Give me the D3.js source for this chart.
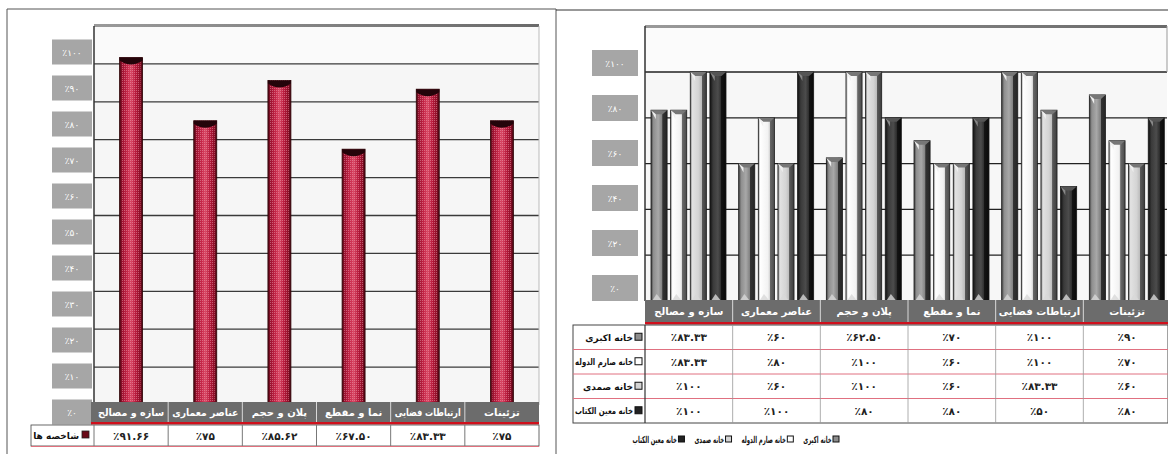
<!DOCTYPE html>
<html>
<head>
<meta charset="utf-8">
<script src="https://cdn.jsdelivr.net/npm/d3@7"></script>
<style>
  body { margin: 0; background: #fff; }
  svg { display: block; font-family: "DejaVu Sans", sans-serif; }
</style>
</head>
<body>
<svg id="chart" width="1168" height="454"></svg>
<script>
// categories (left to right as drawn)
const categories = ['سازه و مصالح', 'عناصر معماری', 'پلان و حجم', 'نما و مقطع', 'ارتباطات فضایی', 'تزئینات'];

// left chart: overall index
const indexName = 'شاخصه ها';
const indexValues = [91.66, 75, 85.62, 67.5, 83.33, 75];

// right chart: four houses
const houses = ['خانه اکبری', 'خانه صارم الدوله', 'خانه صمدی', 'خانه معین الکتاب'];
const akbari = [83.33, 60, 62.5, 70, 100, 90];
const saremDowleh = [83.33, 80, 100, 60, 100, 70];
const samadi = [100, 60, 100, 60, 83.33, 60];
const moinKetab = [100, 100, 80, 80, 50, 80];
const houseValues = [akbari, saremDowleh, samadi, moinKetab];

// tick labels
const leftTicks = [0, 10, 20, 30, 40, 50, 60, 70, 80, 90, 100];
const rightTicks = [0, 20, 40, 60, 80, 100];

const fa = s => String(s).replace(/\d/g, d => '۰۱۲۳۴۵۶۷۸۹'[d]);
const pct = v => '٪' + fa(Number.isInteger(v) ? v : v.toFixed(2));

const svg = d3.select('#chart');
const defs = svg.append('defs');

// right-aligned persian label, squeezed horizontally with a transform
function rtlText(g, rightX, y, txt, size, maxW, squeeze, fill) {
    const holder = g.append('g');
    const t = holder.append('text').attr('x', 0).attr('y', 0).attr('text-anchor', 'middle')
        .style('font-size', size + 'px').style('font-weight', 'bold').attr('fill', fill || '#111').text(txt);
    const len = t.node().getComputedTextLength();
    let k = squeeze || 1;
    if (maxW && len * k > maxW) k = maxW / len;
    holder.attr('transform', `translate(${rightX - len * k / 2},${y}) scale(${k},1)`);
    return len * k;
}

// ---------- gradients / patterns ----------
function hGrad(id, stops) {
    const g = defs.append('linearGradient').attr('id', id)
        .attr('x1', 0).attr('x2', 1).attr('y1', 0).attr('y2', 0);
    stops.forEach(s => g.append('stop').attr('offset', s[0]).attr('stop-color', s[1]));
}
hGrad('redBar', [[0, '#4a0812'], [0.12, '#9c1230'], [0.35, '#c8284a'], [0.5, '#d94a66'], [0.7, '#b81a3c'], [0.9, '#8a0e26'], [1, '#3e0610']]);
hGrad('s0', [[0, '#3c3c3c'], [0.15, '#8e8e8e'], [0.45, '#a8a8a8'], [0.7, '#808080'], [0.72, '#333'], [1, '#262626']]);
hGrad('s1', [[0, '#8a8a8a'], [0.12, '#ffffff'], [0.6, '#f2f2f2'], [0.7, '#d8d8d8'], [0.72, '#6a6a6a'], [1, '#4a4a4a']]);
hGrad('s2', [[0, '#6a6a6a'], [0.12, '#e2e2e2'], [0.5, '#d4d4d4'], [0.7, '#bcbcbc'], [0.72, '#5a5a5a'], [1, '#3c3c3c']]);
hGrad('s3', [[0, '#101010'], [0.2, '#3a3a3a'], [0.5, '#4c4c4c'], [0.7, '#2e2e2e'], [0.72, '#141414'], [1, '#0a0a0a']]);
hGrad('topEdge', [[0, '#9a9a9a'], [1, '#6a6a6a']]);

const dots = defs.append('pattern').attr('id', 'dots')
    .attr('width', 2).attr('height', 2).attr('patternUnits', 'userSpaceOnUse');
dots.append('rect').attr('width', 1).attr('height', 1).attr('fill', '#f6b0c0').attr('opacity', 0.45);

const seriesFill = ['url(#s0)', 'url(#s1)', 'url(#s2)', 'url(#s3)'];
const legendFill = ['#8c8c8c', '#ffffff', '#d4d4d4', '#222'];

// ---------- frames ----------
svg.append('line').attr('x1', 7).attr('x2', 7).attr('y1', 9).attr('y2', 454).attr('stroke', '#555');
svg.append('line').attr('x1', 7).attr('x2', 556).attr('y1', 9).attr('y2', 9).attr('stroke', '#555');
svg.append('line').attr('x1', 556).attr('x2', 556).attr('y1', 9).attr('y2', 454).attr('stroke', '#555');
svg.append('line').attr('x1', 556).attr('x2', 1168).attr('y1', 10).attr('y2', 10).attr('stroke', '#333');

// ================= LEFT CHART =================
const xL = d3.scaleBand().domain(categories).range([94, 539]);
const yL = d3.scaleLinear().domain([0, 100]).range([405, 26]);
const yLabL = d3.scaleLinear().domain([0, 100]).range([412, 52]);

const left = svg.append('g');
left.append('rect').attr('x', xL.range()[0]).attr('y', yL(100))
    .attr('width', xL.range()[1] - xL.range()[0]).attr('height', yL(0) - yL(100))
    .attr('fill', '#f6f6f6');
left.append('rect').attr('x', xL.range()[0]).attr('y', yL(100))
    .attr('width', xL.range()[1] - xL.range()[0]).attr('height', yL(90) - yL(100))
    .attr('fill', '#fafafa');

left.selectAll('.grid').data(leftTicks.filter(t => t > 0 && t < 100)).join('line')
    .attr('x1', xL.range()[0]).attr('x2', xL.range()[1])
    .attr('y1', d => yL(d)).attr('y2', d => yL(d))
    .attr('stroke', '#3a3a3a').attr('stroke-width', 1.3);
left.append('rect').attr('x', xL.range()[0]).attr('y', yL(100) - 2)
    .attr('width', xL.range()[1] - xL.range()[0]).attr('height', 3).attr('fill', 'url(#topEdge)');
left.append('line').attr('x1', xL.range()[0]).attr('x2', xL.range()[0])
    .attr('y1', yL(100)).attr('y2', yL(0)).attr('stroke', '#333').attr('stroke-width', 1.5);
left.append('line').attr('x1', xL.range()[1]).attr('x2', xL.range()[1])
    .attr('y1', yL(100)).attr('y2', yL(0)).attr('stroke', '#bbb');

// label boxes
const labL = left.selectAll('.lab').data(leftTicks).join('g');
labL.append('rect').attr('x', 52).attr('width', 40).attr('height', 25)
    .attr('y', d => yLabL(d) - 12.5).attr('fill', '#a6a6a6');
labL.append('text').attr('x', 72).attr('y', d => yLabL(d) + 3.5)
    .attr('text-anchor', 'middle').attr('fill', '#fff').style('font-size', '9px')
    .text(d => '٪' + fa(d));

// bars
const barW = 23;
left.selectAll('.bar').data(categories).join('g').each(function (c, i) {
    const g = d3.select(this);
    const x0 = xL(c) + xL.bandwidth() / 2 - barW / 2;
    const yT = yL(indexValues[i]), yB = yL(0);
    g.append('rect').attr('x', x0).attr('y', yT).attr('width', barW).attr('height', yB - yT)
        .attr('fill', 'url(#redBar)').attr('stroke', '#300508').attr('stroke-width', 0.8);
    g.append('rect').attr('x', x0 + 2).attr('y', yT).attr('width', barW - 4).attr('height', yB - yT)
        .attr('fill', 'url(#dots)');
    g.append('path')
        .attr('d', `M${x0},${yT} h${barW} v3 Q${x0 + barW / 2},${yT + 11} ${x0},${yT + 3} Z`)
        .attr('fill', '#24040a');
});

// header + data row
const hdrL = left.append('g');
hdrL.append('rect').attr('x', 91).attr('y', 402).attr('width', xL.range()[1] - 91).attr('height', 20).attr('fill', '#6c6c6c');
hdrL.selectAll('.sep').data(categories.slice(1)).join('line')
    .attr('x1', d => xL(d)).attr('x2', d => xL(d)).attr('y1', 402).attr('y2', 422)
    .attr('stroke', '#d8d8d8');
categories.forEach(c => {
    const w = rtlText(hdrL, 0, 416, c, 10, xL.bandwidth() - 8, 1, '#fff');
    hdrL.select('g:last-child').attr('transform', function () {
        return this.getAttribute('transform').replace(/translate\([^,]+,/, `translate(${xL(c) + xL.bandwidth() / 2},`);
    });
});
hdrL.append('rect').attr('x', 91).attr('y', 422).attr('width', xL.range()[1] - 91).attr('height', 2.5).attr('fill', '#d0101c');

hdrL.append('rect').attr('x', 31).attr('y', 425).attr('width', xL.range()[1] - 31).attr('height', 21)
    .attr('fill', '#fff').attr('stroke', '#444').attr('stroke-width', 0.8);
hdrL.append('line').attr('x1', 31).attr('x2', xL.range()[1]).attr('y1', 446.5).attr('y2', 446.5).attr('stroke', '#e0707c');
hdrL.selectAll('.vsep').data(categories).join('line')
    .attr('x1', d => xL(d)).attr('x2', d => xL(d)).attr('y1', 425).attr('y2', 446)
    .attr('stroke', '#777');
hdrL.append('rect').attr('x', 82).attr('y', 431).attr('width', 7).attr('height', 7)
    .attr('fill', '#6a0a18').attr('stroke', '#222').attr('stroke-width', 0.8);
rtlText(hdrL, 79, 439, indexName, 9, 46);
hdrL.selectAll('.val').data(categories).join('text')
    .attr('x', d => xL(d) + xL.bandwidth() / 2).attr('y', 440)
    .attr('text-anchor', 'middle').style('font-size', '10.5px').style('font-weight', 'bold').attr('fill', '#222')
    .text((d, i) => pct(indexValues[i]));

// ================= RIGHT CHART =================
const xR = d3.scaleBand().domain(categories).range([645, 1171]);
const xIn = d3.scaleBand().domain(houses).range([6, 81]).paddingInner(0.18);
const yR = d3.scaleLinear().domain([0, 100]).range([301, 72]);
const yLabR = d3.scaleLinear().domain([0, 100]).range([288, 63]);

const right = svg.append('g');
right.append('rect').attr('x', 645).attr('y', 27).attr('width', 1167 - 645).attr('height', yR(0) - 27)
    .attr('fill', '#f7f7f7');
right.append('rect').attr('x', 645).attr('y', 27).attr('width', 1167 - 645).attr('height', yR(100) - 27)
    .attr('fill', '#fbfbfb');
right.selectAll('.grid').data(rightTicks.filter(t => t > 0)).join('line')
    .attr('x1', 645).attr('x2', 1167).attr('y1', d => yR(d)).attr('y2', d => yR(d))
    .attr('stroke', '#222').attr('stroke-width', 1.3);
right.append('rect').attr('x', 645).attr('y', 25).attr('width', 1167 - 645).attr('height', 3).attr('fill', 'url(#topEdge)');
right.append('line').attr('x1', 645).attr('x2', 645).attr('y1', 26).attr('y2', 301).attr('stroke', '#333').attr('stroke-width', 1.5);
right.append('line').attr('x1', 1167).attr('x2', 1167).attr('y1', 26).attr('y2', yR(100)).attr('stroke', '#999');

const labR = right.selectAll('.lab').data(rightTicks).join('g');
labR.append('rect').attr('x', 592).attr('width', 46).attr('height', 26)
    .attr('y', d => yLabR(d) - 13).attr('fill', '#a6a6a6');
labR.append('text').attr('x', 615).attr('y', d => yLabR(d) + 3.5)
    .attr('text-anchor', 'middle').attr('fill', '#fff').style('font-size', '9px')
    .text(d => '٪' + fa(d));

categories.forEach((c, i) => {
    houses.forEach((h, s) => {
        const w = xIn.bandwidth();
        const x0 = xR(c) + xIn(h);
        const yT = yR(houseValues[s][i]), yB = yR(0);
        const g = right.append('g');
        g.append('rect').attr('x', x0).attr('y', yT).attr('width', w).attr('height', yB - yT)
            .attr('fill', seriesFill[s]).attr('stroke', '#1a1a1a').attr('stroke-width', 0.8);
        // bevelled top
        g.append('path').attr('d', `M${x0},${yT} L${x0 + w},${yT} L${x0 + w * 0.72},${yT + 4} L${x0 + w * 0.3},${yT + 4} Z`)
            .attr('fill', s === 3 ? '#555' : '#777');
        g.append('path').attr('d', `M${x0},${yT} L${x0 + w * 0.3},${yT + 4} L${x0 + w * 0.3},${yT + 9} Z`)
            .attr('fill', s === 3 ? '#888' : '#f0f0f0');
        // light foot
        g.append('path').attr('d', `M${x0 + 1},${yB} L${x0 + w * 0.35},${yB - 7} L${x0 + w * 0.7},${yB} Z`)
            .attr('fill', '#d8d8d8').attr('opacity', 0.8);
    });
});

// header + table
const tbl = right.append('g');
tbl.append('rect').attr('x', 645).attr('y', 300).attr('width', 1168 - 645).attr('height', 22).attr('fill', '#6c6c6c');
tbl.selectAll('.sep').data(categories.slice(1)).join('line')
    .attr('x1', d => xR(d)).attr('x2', d => xR(d)).attr('y1', 300).attr('y2', 322).attr('stroke', '#d8d8d8');
tbl.selectAll('.ht').data(categories).join('text')
    .attr('x', d => xR(d) + xR.bandwidth() / 2).attr('y', 315)
    .attr('text-anchor', 'middle').attr('fill', '#fff').style('font-size', '10px').style('font-weight', 'bold')
    .text(d => d);
tbl.append('rect').attr('x', 645).attr('y', 322).attr('width', 1168 - 645).attr('height', 2.5).attr('fill', '#d0101c');

const rowY = d3.scaleBand().domain(houses).range([325, 423]);
tbl.append('rect').attr('x', 573).attr('y', 325).attr('width', 1168 - 573).attr('height', 98)
    .attr('fill', '#fff').attr('stroke', '#444').attr('stroke-width', 1);
tbl.selectAll('.rsep').data(houses.slice(1)).join('line')
    .attr('x1', 573).attr('x2', 1168).attr('y1', d => rowY(d)).attr('y2', d => rowY(d))
    .attr('stroke', '#e07080').attr('stroke-width', 1);
tbl.selectAll('.vsep').data(categories).join('line')
    .attr('x1', d => xR(d)).attr('x2', d => xR(d)).attr('y1', 325).attr('y2', 423)
    .attr('stroke', d => d === categories[0] ? '#333' : '#999').attr('stroke-width', d => d === categories[0] ? 1.2 : 0.8);

houses.forEach((h, s) => {
    const cy = rowY(h) + rowY.bandwidth() / 2;
    tbl.append('rect').attr('x', 635).attr('y', cy - 4).attr('width', 7).attr('height', 7)
        .attr('fill', legendFill[s]).attr('stroke', '#111').attr('stroke-width', 1);
    rtlText(tbl, 633, cy + 3.5, h, 9, 58);
    tbl.selectAll('.v' + s).data(categories).join('text')
        .attr('x', d => xR(d) + xR.bandwidth() / 2).attr('y', cy + 4)
        .attr('text-anchor', 'middle').style('font-size', '10.5px').style('font-weight', 'bold').attr('fill', '#222')
        .text((d, i) => pct(houseValues[s][i]));
});

// legend (right to left), condensed like the source
const leg = right.append('g');
let lx = 840;
houses.forEach((h, s) => {
    leg.append('rect').attr('x', lx - 7).attr('y', 436).attr('width', 6).attr('height', 6)
        .attr('fill', legendFill[s]).attr('stroke', '#111').attr('stroke-width', 1);
    const len = rtlText(leg, lx - 8.5, 443, h, 9.5, null, 0.56);
    lx = lx - 8.5 - len - 9;
});
</script>
</body>
</html>
